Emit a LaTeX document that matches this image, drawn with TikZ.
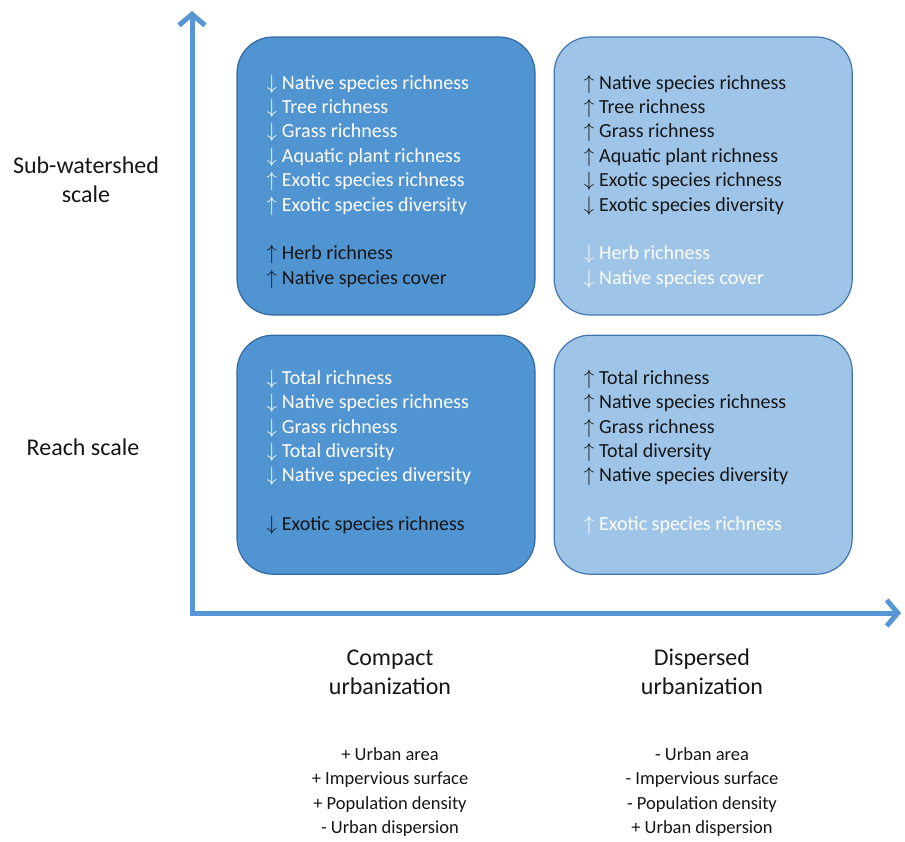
\documentclass[tikz,border=0pt]{standalone}
\usepackage{fontspec}
\setmainfont{Carlito}
\usepackage{xcolor}
\usetikzlibrary{positioning,arrows.meta}
\definecolor{axisblue}{RGB}{86,150,212}
\definecolor{darkfill}{RGB}{80,148,210}
\definecolor{darkedge}{RGB}{52,106,160}
\definecolor{lightfill}{RGB}{158,196,231}
\definecolor{lightedge}{RGB}{66,118,176}
\definecolor{ink}{RGB}{22,22,22}
\tikzset{
axis/.style={draw=axisblue, line width=5pt, -{Straight Barb[length=11pt,width=26pt,line width=5pt]}},
quad/.style={draw=darkedge, fill=darkfill, line width=1.2pt, rounded corners=36pt, minimum width=298pt, minimum height=#1, inner sep=0pt},
quadlight/.style={quad=#1, draw=lightedge, fill=lightfill},
effects/.style={anchor=north west, align=left, inner sep=0pt, font=\fontsize{20}{24.4}\selectfont},
scalelabel/.style={align=center, inner sep=0pt, text=ink, font=\fontsize{24}{29.3}\selectfont},
drivers/.style={align=center, inner sep=0pt, text=ink, font=\fontsize{18.5}{24.5}\selectfont}
}
\newcommand{\upar}{$\uparrow$\hspace{5pt}}
\newcommand{\dnar}{$\downarrow$\hspace{5pt}}

\begin{document}
\begin{tikzpicture}[x=1pt,y=-1pt]
\useasboundingbox (0,0) rectangle (905,841);

% axes
\coordinate (origin) at (192,613);
\coordinate (ytop) at (192,11);
\coordinate (xend) at (901,613);
\draw[axis] ([yshift=-2.5pt]origin) -- (ytop);
\draw[axis] ([xshift=-2.5pt]origin) -- (xend);

% quadrants
\node[quad=278pt] (swcompact) at (386,176) {};
\node[quadlight=278pt, right=18pt of swcompact] (swdispersed) {};
\node[quad=239pt, below=19pt of swcompact] (rcompact) {};
\node[quadlight=239pt, below=19pt of swdispersed] (rdispersed) {};

\node[effects, text=white] (swcompacttxt) at ([shift={(30pt,-38pt)}]swcompact.north west)
  {\dnar Native species richness\\ \dnar Tree richness\\ \dnar Grass richness\\
   \dnar Aquatic plant richness\\ \upar Exotic species richness\\ \upar Exotic species diversity\\[24.4pt]
   \textcolor{ink}{\upar Herb richness}\\ \textcolor{ink}{\upar Native species cover}};
\node[effects, text=ink] (swdispersedtxt) at ([shift={(30pt,-38pt)}]swdispersed.north west)
  {\upar Native species richness\\ \upar Tree richness\\ \upar Grass richness\\
   \upar Aquatic plant richness\\ \dnar Exotic species richness\\ \dnar Exotic species diversity\\[24.4pt]
   \textcolor{white}{\dnar Herb richness}\\ \textcolor{white}{\dnar Native species cover}};
\node[effects, text=white] (rcompacttxt) at ([shift={(30pt,-35pt)}]rcompact.north west)
  {\dnar Total richness\\ \dnar Native species richness\\ \dnar Grass richness\\
   \dnar Total diversity\\ \dnar Native species diversity\\[24.4pt]
   \textcolor{ink}{\dnar Exotic species richness}};
\node[effects, text=ink] (rdispersedtxt) at ([shift={(30pt,-35pt)}]rdispersed.north west)
  {\upar Total richness\\ \upar Native species richness\\ \upar Grass richness\\
   \upar Total diversity\\ \upar Native species diversity\\[24.4pt]
   \textcolor{white}{\upar Exotic species richness}};

% scale labels
\node[scalelabel] (subwatershed) at (86,180) {Sub-watershed\\scale};
\node[scalelabel] (reach) at (83,447) {Reach scale};

% urbanization labels
\node[scalelabel] (compact) at (390,672) {Compact\\urbanization};
\node[scalelabel] (dispersed) at (702,672) {Dispersed\\urbanization};
\node[drivers] (compactdrv) at (390,792) {+ Urban area\\+ Impervious surface\\+ Population density\\- Urban dispersion};
\node[drivers] (disperseddrv) at (702,792) {- Urban area\\- Impervious surface\\- Population density\\+ Urban dispersion};
\end{tikzpicture}
\end{document}
